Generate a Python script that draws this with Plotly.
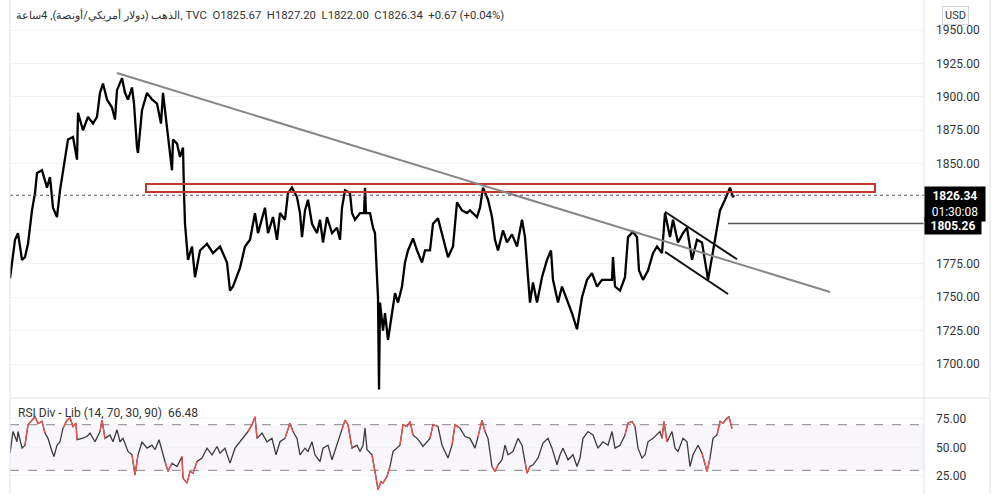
import plotly.graph_objects as go

# ---------------- data ----------------
price_bar = [0,5,8,12,15,18,22,25,27,32,37,40,43,47,50,55,58,63,67,68,73,78,83,87,90,93,97,102,105,107,112,115,118,122,124,127,128,132,137,142,147,151,153,157,158,162,163,167,170,173,174,175,178,182,185,190,197,203,210,217,220,223,230,235,240,245,248,255,258,263,267,270,275,278,282,287,290,292,295,298,302,307,310,313,317,322,327,330,332,335,340,342,345,350,354,355,356,360,363,365,367,368,369,370,373,375,378,382,385,388,392,395,398,403,407,412,415,420,423,428,433,438,443,447,452,457,460,467,470,473,478,482,485,488,493,497,502,507,512,515,518,520,523,527,532,537,541,543,548,552,557,562,567,572,577,582,587,592,597,602,603,605,610,615,618,623,627,629,633,638,643,647,652,655,660,663,668,673,677,682,687,692,697,698,702,705,708,710,715,718,720,723,724]
price_close = [1764,1793,1798,1778,1780,1790,1815,1828,1843,1845,1832,1840,1817,1810,1830,1853,1868,1870,1853,1888,1875,1885,1880,1885,1903,1910,1898,1892,1883,1905,1914,1903,1898,1907,1895,1862,1858,1890,1903,1898,1895,1880,1903,1877,1870,1845,1868,1865,1855,1862,1828,1805,1778,1788,1765,1785,1790,1783,1788,1776,1755,1758,1772,1788,1793,1813,1798,1817,1798,1810,1793,1813,1808,1828,1832,1825,1813,1795,1815,1823,1805,1798,1808,1791,1810,1798,1802,1793,1817,1830,1828,1813,1808,1813,1813,1832,1813,1813,1802,1798,1765,1750,1681,1746,1725,1738,1718,1740,1753,1746,1758,1776,1785,1794,1785,1776,1785,1785,1805,1809,1795,1780,1788,1821,1815,1813,1815,1810,1817,1832,1823,1810,1793,1785,1800,1791,1797,1788,1808,1795,1765,1746,1761,1746,1765,1778,1785,1763,1746,1758,1748,1738,1726,1750,1763,1768,1758,1763,1763,1763,1780,1758,1755,1765,1795,1799,1795,1770,1763,1770,1783,1788,1783,1813,1795,1808,1791,1798,1802,1778,1793,1791,1768,1763,1780,1793,1808,1815,1823,1828,1832,1825,1826.34]

rsi_bar = [0,3,7,8,12,15,18,22,25,28,32,35,38,42,44,47,50,53,57,60,63,66,67,72,77,80,85,90,92,95,100,103,107,110,113,118,122,125,128,132,137,142,145,149,152,155,158,162,167,172,173,177,180,183,187,192,197,202,207,210,215,220,225,230,235,238,242,245,247,252,257,262,266,270,275,280,283,287,290,295,298,302,305,310,313,318,322,327,332,335,338,342,347,350,353,355,357,362,365,367,368,371,373,377,380,383,387,390,393,397,400,403,407,410,413,417,420,423,428,432,435,438,442,445,450,455,460,465,468,472,475,478,482,485,488,492,495,498,503,508,512,515,517,520,523,528,533,538,542,547,550,553,558,563,567,570,573,578,583,588,593,598,602,605,610,615,618,622,625,628,632,635,638,643,647,650,652,654,657,662,665,668,673,677,680,683,688,692,697,700,703,707,710,713,717,719,722]
rsi_value = [45,64,55,64,49.5,52,70,74,77,71,73,62.6,58,46.5,42,52,55,67,74,76,68.4,71.4,56.8,58,59.6,62.6,55,64,74,58,61,55,65.5,55,58,46.5,43.6,26,43.6,55,49.4,52,48,56.8,46.5,37.7,29,36.3,33.3,42,23,18.8,29,27.5,37.7,40.7,49.4,43.6,50.9,45,49.4,36.3,49.4,55,61,64,70,77,58,62.6,55,58,43.6,55,58,71.4,64,58,43.6,49.4,46.5,55,43.6,37.7,49.4,52,39.2,52,65.5,74,70,49.4,52,46.5,52,67,48,43.6,29,18.8,13,20,18.8,24.6,33.3,46.5,49.4,52,70,68.4,72.8,61,58,55,50.9,55,58,70,68.4,52,46.5,40.7,52,70,67,59.6,58,49.4,59.6,74,64,58,33.3,29,34.8,39.2,52,43.6,46.5,58,52,37.7,27.5,33.3,34.8,40.7,53.8,58,49.4,34.8,43.6,49.4,39.2,43.6,33.3,40.7,58,64,61,49.4,55,52,64,49.4,52,61,71.4,72.8,68.4,49.4,40.7,43.6,55,58,61,64,58,72.8,55,64,49.4,46.5,58,55,33.3,43.6,52,45,29,40.7,58,61,72.8,71.4,75.8,77,66.48]

price_ticks = [1700, 1725, 1750, 1775, 1800, 1825, 1850, 1875, 1900, 1925, 1950]
rsi_ticks = [25, 50, 75]

last_price = 1826.34
level_price = 1805.26
countdown = "01:30:08"
zone_low, zone_high = 1828.7, 1834.7
zone_bars = [136, 865]
trend_bars = [107, 820]
trend_vals = [1917.8, 1753.9]
chan_up_bars = [655, 727]
chan_up_vals = [1814.0, 1778.4]
chan_lo_bars = [655, 718]
chan_lo_vals = [1784.0, 1752.4]
level_start_bar = 718
rsi_upper, rsi_lower, rsi_mid = 70, 30, 50

title_text = "الذهب (دولار أمريكي/أونصة), 4ساعة, TVC&nbsp;&nbsp;O1825.67&nbsp;&nbsp;H1827.20&nbsp;&nbsp;L1822.00&nbsp;&nbsp;C1826.34&nbsp;&nbsp;+0.67 (+0.04%)"
rsi_label = "RSI Div - Lib (14, 70, 30, 90)&nbsp;&nbsp;66.48"

# ---------------- figure ----------------
FONT = "Roboto"
W, H = 1000, 504
ML, MR, MT, MB = 10, 76, 0, 10
plot_w = W - ML - MR
plot_h = H - MT - MB
def py(px):  # pixel row -> paper y
    return (H - MB - px) / plot_h
def pxx(px):  # pixel col -> paper x
    return (px - ML) / plot_w

price_dom = [py(397), 1]
rsi_dom = [0, py(398)]

# red segments of RSI (beyond the 70 / 30 levels)
beyond = [v >= rsi_upper or v <= rsi_lower for v in rsi_value]
rsi_red = [v if beyond[i] or (i > 0 and beyond[i-1]) or (i + 1 < len(beyond) and beyond[i+1]) else None
           for i, v in enumerate(rsi_value)]

# tick labels hidden behind the price boxes
covered = [last_price, level_price]
price_ticktext = ["" if any(abs(t - c) < 12 for c in covered) else "%.2f" % t for t in price_ticks]

fig = go.Figure()
fig.add_trace(go.Scatter(x=price_bar, y=price_close, mode="lines",
                         line=dict(color="#000000", width=2.3), xaxis="x", yaxis="y",
                         hoverinfo="skip", showlegend=False))
fig.add_trace(go.Scatter(x=rsi_bar, y=rsi_value, mode="lines",
                         line=dict(color="#3a3a3a", width=1.3), xaxis="x2", yaxis="y2",
                         hoverinfo="skip", showlegend=False))
fig.add_trace(go.Scatter(x=rsi_bar, y=rsi_red, mode="lines",
                         line=dict(color="#ef5350", width=1.3), xaxis="x2", yaxis="y2",
                         hoverinfo="skip", showlegend=False, connectgaps=False))

shapes = []
shapes.append(dict(type="rect", xref="x2 domain", yref="y2", x0=0, x1=1, y0=rsi_lower, y1=rsi_upper,
                   fillcolor="rgba(149,117,205,0.07)", line=dict(width=0), layer="below"))
for lvl in (rsi_upper, rsi_lower):
    shapes.append(dict(type="line", xref="x2 domain", yref="y2", x0=0, x1=1, y0=lvl, y1=lvl,
                       line=dict(color="#9e9e9e", width=1.2, dash="dash"), layer="below"))
shapes.append(dict(type="line", xref="x2 domain", yref="y2", x0=0, x1=1, y0=rsi_mid, y1=rsi_mid,
                   line=dict(color="#e6e1ec", width=1), layer="below"))
shapes.append(dict(type="rect", xref="x", yref="y", x0=zone_bars[0], x1=zone_bars[1], y0=zone_low, y1=zone_high,
                   fillcolor="rgba(244,67,54,0.04)", line=dict(color="#c0392b", width=2), layer="above"))
shapes.append(dict(type="line", xref="x", yref="y", x0=trend_bars[0], x1=trend_bars[1], y0=trend_vals[0], y1=trend_vals[1],
                   line=dict(color="#878787", width=2)))
shapes.append(dict(type="line", xref="x", yref="y", x0=chan_up_bars[0], x1=chan_up_bars[1], y0=chan_up_vals[0], y1=chan_up_vals[1],
                   line=dict(color="#111111", width=2)))
shapes.append(dict(type="line", xref="x", yref="y", x0=chan_lo_bars[0], x1=chan_lo_bars[1], y0=chan_lo_vals[0], y1=chan_lo_vals[1],
                   line=dict(color="#111111", width=2)))
shapes.append(dict(type="line", xref="x", yref="y", x0=level_start_bar, x1=plot_w, y0=level_price, y1=level_price,
                   line=dict(color="#555555", width=1.5)))
shapes.append(dict(type="line", xref="paper", yref="y", x0=0, x1=1, y0=last_price, y1=last_price,
                   line=dict(color="#555555", width=1, dash="dot")))
sep = "#e0e3eb"
shapes.append(dict(type="line", xref="paper", yref="paper", x0=0, x1=0, y0=0, y1=1, line=dict(color=sep, width=1)))
shapes.append(dict(type="line", xref="paper", yref="paper", x0=1, x1=1, y0=0, y1=1, line=dict(color=sep, width=1)))
shapes.append(dict(type="line", xref="paper", yref="paper", x0=pxx(990), x1=pxx(990), y0=0, y1=1, line=dict(color=sep, width=1)))
shapes.append(dict(type="line", xref="paper", yref="paper", x0=0, x1=pxx(990), y0=py(398), y1=py(398), line=dict(color=sep, width=1)))

annotations = []
annotations.append(dict(xref="paper", yref="paper", x=pxx(14), y=py(15), xanchor="left", yanchor="middle",
                        text=title_text, showarrow=False, font=dict(family=FONT, size=11.3, color="#333333")))
annotations.append(dict(xref="paper", yref="paper", x=pxx(16), y=py(413), xanchor="left", yanchor="middle",
                        text=rsi_label, showarrow=False, font=dict(family=FONT, size=12, color="#333333")))
annotations.append(dict(xref="paper", yref="paper", x=pxx(956), y=py(16), xanchor="center", yanchor="middle",
                        text="USD", showarrow=False, font=dict(family=FONT, size=11, color="#333333"),
                        bgcolor="#ffffff", bordercolor="#cfd3dc", borderwidth=1, borderpad=2))
annotations.append(dict(xref="paper", yref="y", x=1.0, y=last_price, xanchor="left", yanchor="top", yshift=9,
                        text="<b>%.2f</b><br>%s" % (last_price, countdown), showarrow=False, align="center",
                        width=56, font=dict(family=FONT, size=12, color="#ffffff"),
                        bgcolor="#000000", borderpad=2))
annotations.append(dict(xref="paper", yref="y", x=1.0, y=level_price, xanchor="left", yanchor="middle", yshift=-3,
                        text="<b>%.2f</b>" % level_price, showarrow=False, align="center",
                        width=54, font=dict(family=FONT, size=12, color="#ffffff"),
                        bgcolor="#000000", borderpad=1))

fig.update_layout(
    width=W, height=H, margin=dict(l=ML, r=MR, t=MT, b=MB),
    paper_bgcolor="#ffffff", plot_bgcolor="#ffffff",
    font=dict(family=FONT, size=12, color="#333333"),
    showlegend=False, shapes=shapes, annotations=annotations, hovermode=False,
    xaxis=dict(domain=[0, 1], range=[0, plot_w], anchor="y", showgrid=False, zeroline=False,
               showticklabels=False, ticks="", showline=False),
    xaxis2=dict(domain=[0, 1], range=[0, plot_w], anchor="y2", matches="x", showgrid=False, zeroline=False,
                showticklabels=False, ticks="", showline=False),
    yaxis=dict(domain=price_dom, range=[1675.3, 1972.5], side="right", tickvals=price_ticks, ticktext=price_ticktext,
               showgrid=True, gridcolor="#f0f2f5", gridwidth=1, zeroline=False, ticks="", showline=False,
               ticklabelstandoff=11, tickfont=dict(family=FONT, size=12, color="#333333")),
    yaxis2=dict(domain=rsi_dom, range=[9.2, 93.4], side="right", tickvals=rsi_ticks, tickformat=".2f",
                showgrid=True, gridcolor="#f0f2f5", gridwidth=1, zeroline=False, ticks="", showline=False,
                ticklabelstandoff=11, tickfont=dict(family=FONT, size=12, color="#333333")),
)

fig.write_html("out.html", config={"displayModeBar": False},
               post_script="document.body.style.margin='0px';document.body.style.padding='0px';")
